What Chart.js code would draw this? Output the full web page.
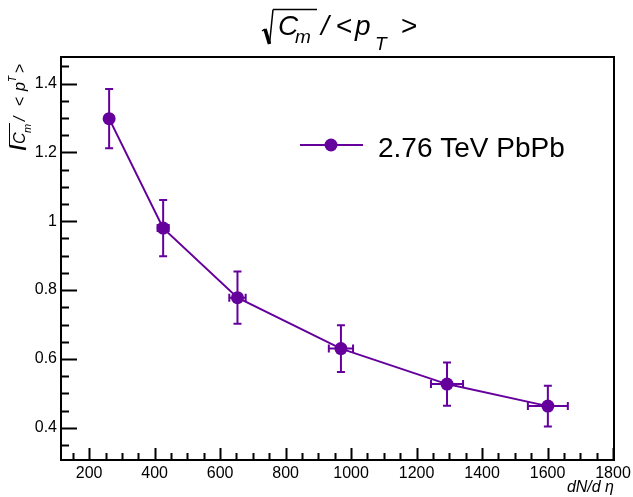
<!DOCTYPE html>
<html>
<head>
<meta charset="utf-8">
<script src="https://cdn.jsdelivr.net/npm/chart.js@4.4.1/dist/chart.umd.min.js"></script>
<style>
  html, body { margin: 0; padding: 0; background: #fff; }
  canvas { display: block; }
</style>
</head>
<body>
<canvas id="plot" width="633" height="497"></canvas>
<script>
// dN/deta, values and errors
const xVals = [261, 426, 653, 969, 1293, 1601];
const yVals = [1.298, 0.980, 0.778, 0.630, 0.527, 0.463];
const xErr  = [10, 17, 25, 37, 49, 61];
const yErr  = [0.086, 0.082, 0.076, 0.068, 0.063, 0.059];

const xTicks = [200, 400, 600, 800, 1000, 1200, 1400, 1600, 1800];
const yTicks = [0.4, 0.6, 0.8, 1, 1.2, 1.4];
const seriesName = "2.76 TeV PbPb";

const purple = "#65009c";
const FONT = "'Liberation Sans', Arial, Helvetica, sans-serif";

Chart.defaults.font.family = FONT;
Chart.defaults.color = "#000";

const ctxEl = document.getElementById("plot");

// error bars go under the markers
const errorBars = {
  id: "errorBars",
  beforeDatasetsDraw(chart) {
    const c = chart.ctx, xs = chart.scales.x, ys = chart.scales.y;
    c.save();
    c.strokeStyle = purple;
    c.lineWidth = 2;
    for (let i = 0; i < xVals.length; i++) {
      const px = xs.getPixelForValue(xVals[i]);
      const py = ys.getPixelForValue(yVals[i]);
      const top = ys.getPixelForValue(yVals[i] + yErr[i]);
      const bot = ys.getPixelForValue(yVals[i] - yErr[i]);
      const l = xs.getPixelForValue(xVals[i] - xErr[i]);
      const r = xs.getPixelForValue(xVals[i] + xErr[i]);
      c.beginPath();
      c.moveTo(px, top); c.lineTo(px, bot);
      c.moveTo(px - 4, top); c.lineTo(px + 4, top);
      c.moveTo(px - 4, bot); c.lineTo(px + 4, bot);
      c.moveTo(l, py); c.lineTo(r, py);
      c.moveTo(l, py - 4); c.lineTo(l, py + 4);
      c.moveTo(r, py - 4); c.lineTo(r, py + 4);
      c.stroke();
    }
    c.restore();
  }
};

// ROOT-like frame with inward ticks, titles and legend
const rootFrame = {
  id: "rootFrame",
  afterDraw(chart) {
    const c = chart.ctx, a = chart.chartArea;
    const xs = chart.scales.x, ys = chart.scales.y;
    c.save();
    c.strokeStyle = "#000";
    c.lineWidth = 2;
    c.strokeRect(a.left, a.top, a.right - a.left, a.bottom - a.top);

    // x ticks
    c.beginPath();
    for (let v = 150; v <= xs.max; v += 50) {
      if (v < xs.min) continue;
      const p = Math.round(xs.getPixelForValue(v)) + 0.5;
      const len = (v % 200 === 0) ? 12 : 7;
      c.moveTo(p, a.bottom); c.lineTo(p, a.bottom - len);
    }
    // y ticks
    for (let k = 7; k <= 29; k++) {
      const v = k * 0.05;
      if (v < ys.min || v > ys.max) continue;
      const p = Math.round(ys.getPixelForValue(v)) + 0.5;
      const len = (k % 4 === 0) ? 16 : 8;
      c.moveTo(a.left, p); c.lineTo(a.left + len, p);
    }
    c.stroke();

    // title: sqrt(C_m) / < p_T >
    c.fillStyle = "#000";
    c.textBaseline = "alphabetic";
    c.textAlign = "left";
    c.lineWidth = 1.5;
    c.beginPath();
    c.moveTo(262, 31); c.lineTo(265, 29);
    c.moveTo(273, 9.5); c.lineTo(317, 9.5);
    c.moveTo(269.5, 44); c.lineTo(273, 9.5);
    c.stroke();
    c.lineWidth = 3.5;
    c.beginPath();
    c.moveTo(265, 29); c.lineTo(269.5, 44);
    c.stroke();
    c.font = "italic 28px " + FONT;
    c.fillText("C", 278, 35);
    c.font = "italic 19px " + FONT;
    c.fillText("m", 295, 43);
    c.font = "italic 28px " + FONT;
    c.fillText("/", 321, 35);
    c.font = "28px " + FONT;
    c.fillText("<", 336, 35);
    c.font = "italic 28px " + FONT;
    c.fillText("p", 355, 35);
    c.font = "italic 19px " + FONT;
    c.fillText("T", 375, 50);
    c.font = "28px " + FONT;
    c.fillText(">", 401, 35);

    // y title (rotated)
    c.save();
    c.translate(25, 148);
    c.rotate(-Math.PI / 2);
    c.lineWidth = 1;
    c.beginPath();
    c.moveTo(2, -15.5); c.lineTo(25, -15.5);
    c.stroke();
    c.lineWidth = 2.5;
    c.beginPath();
    c.moveTo(-1, 1); c.lineTo(2, -15.5);
    c.stroke();
    c.font = "italic 16px " + FONT;
    c.fillText("C", 4, 0);
    c.font = "italic 11px " + FONT;
    c.fillText("m", 15, 6);
    c.font = "italic 16px " + FONT;
    c.fillText("/", 27, 0);
    c.font = "16px " + FONT;
    c.fillText("<", 42, 0);
    c.font = "italic 16px " + FONT;
    c.fillText("p", 57, 0);
    c.font = "italic 10px " + FONT;
    c.fillText("T", 66, -9);
    c.font = "16px " + FONT;
    c.fillText(">", 75, 0);
    c.restore();

    // x title
    c.font = "italic 16px " + FONT;
    c.textAlign = "right";
    c.fillText("dN/d \u03b7", a.right, 492);

    // legend
    const ly = 145;
    c.strokeStyle = purple;
    c.lineWidth = 2;
    c.beginPath();
    c.moveTo(300, ly); c.lineTo(363, ly);
    c.stroke();
    c.fillStyle = purple;
    c.beginPath();
    c.arc(331, ly, 6.5, 0, Math.PI * 2);
    c.fill();
    c.fillStyle = "#000";
    c.textAlign = "left";
    c.font = "28px " + FONT;
    c.fillText(seriesName, 378, 157);
    c.restore();
  }
};

new Chart(ctxEl, {
  type: "scatter",
  data: {
    datasets: [{
      label: seriesName,
      data: xVals.map((x, i) => ({ x: x, y: yVals[i] })),
      showLine: true,
      borderColor: purple,
      borderWidth: 2,
      backgroundColor: purple,
      pointBackgroundColor: purple,
      pointBorderColor: purple,
      pointRadius: 6.5,
      pointBorderWidth: 0,
      tension: 0,
      clip: false
    }]
  },
  options: {
    responsive: false,
    animation: false,
    events: [],
    layout: { padding: { top: 57, right: 19, left: 0, bottom: 0 } },
    plugins: {
      legend: { display: false },
      tooltip: { enabled: false },
      title: { display: false }
    },
    scales: {
      x: {
        type: "linear",
        min: 114,
        max: 1803,
        grid: { display: false },
        border: { display: false },
        ticks: { font: { size: 16 }, color: "#000", padding: -4, maxRotation: 0,
                 callback: v => String(v) },
        afterBuildTicks: s => { s.ticks = xTicks.map(v => ({ value: v })); },
        afterFit: s => { s.height = 37; }
      },
      y: {
        type: "linear",
        min: 0.3065,
        max: 1.477,
        grid: { display: false },
        border: { display: false },
        ticks: { font: { size: 16 }, color: "#000", padding: -4,
                 callback: v => String(Math.round(v * 10) / 10) },
        afterBuildTicks: s => { s.ticks = yTicks.map(v => ({ value: v })); },
        afterFit: s => { s.width = 61; }
      }
    }
  },
  plugins: [errorBars, rootFrame]
});
</script>
</body>
</html>
